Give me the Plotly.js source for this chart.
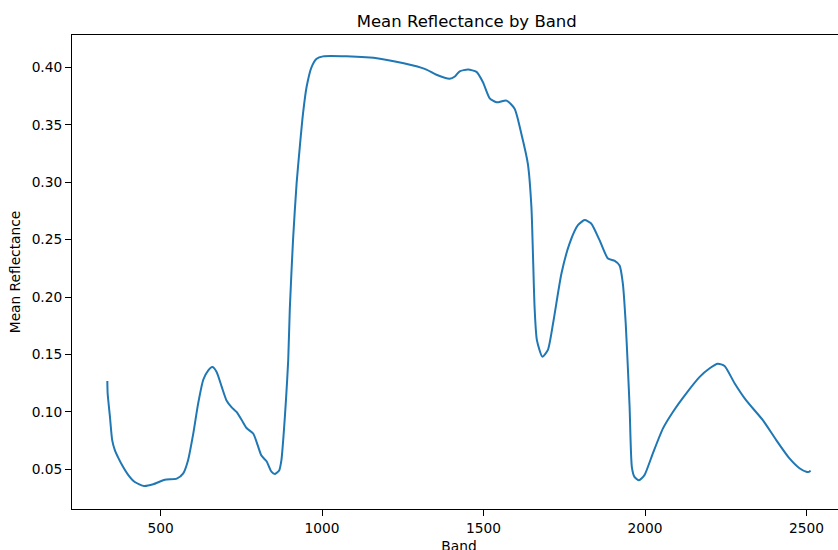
<!DOCTYPE html>
<html>
<head>
<meta charset="utf-8">
<script src="https://cdn.plot.ly/plotly-3.0.1.min.js"></script>
<style>
html,body{margin:0;padding:0;overflow:hidden;background:#fff;}
#chart{width:900px;height:560px;}
</style>
</head>
<body>
<div id="chart"></div>
<script>
const band = [335,336,343,350,358,369,384,400,420,449,477,513,550,570,585,601,616,632,647,660,673,689,704,720,735,751,766,787,797,812,828,843,854,867,874,881,888,895,900,910,921,931,941,952,967,983,1003,1075,1179,1282,1323,1354,1395,1411,1426,1452,1478,1498,1519,1540,1571,1596,1617,1637,1648,1653,1658,1665,1682,1699,1715,1741,1766,1792,1813,1833,1859,1885,1906,1921,1931,1940,1947,1952,1959,1967,1981,1998,2024,2055,2086,2127,2169,2200,2225,2246,2277,2313,2364,2406,2447,2478,2499,2509,2512];
const meanReflectance = [0.127,0.116,0.096,0.0755,0.067,0.060,0.052,0.045,0.039,0.0355,0.037,0.041,0.042,0.0465,0.058,0.081,0.107,0.128,0.136,0.139,0.135,0.122,0.110,0.104,0.100,0.093,0.086,0.081,0.074,0.062,0.057,0.048,0.046,0.049,0.058,0.081,0.110,0.145,0.19,0.25,0.299,0.331,0.360,0.383,0.400,0.4075,0.4095,0.4095,0.4075,0.4015,0.398,0.3935,0.390,0.392,0.3965,0.398,0.396,0.387,0.373,0.3695,0.371,0.364,0.342,0.316,0.2785,0.235,0.19,0.1625,0.148,0.154,0.177,0.2205,0.2465,0.2625,0.267,0.264,0.2495,0.2335,0.2315,0.2275,0.212,0.177,0.136,0.1045,0.052,0.0435,0.0405,0.045,0.064,0.0855,0.100,0.116,0.1305,0.138,0.142,0.140,0.125,0.110,0.093,0.0755,0.0595,0.051,0.048,0.048,0.049];
const xTicks = [500,1000,1500,2000,2500];
const yTicks = [0.05,0.10,0.15,0.20,0.25,0.30,0.35,0.40];
const yTickText = ["0.05","0.10","0.15","0.20","0.25","0.30","0.35","0.40"];

const font = "DejaVu Sans, sans-serif";
const trace = {
  x: band, y: meanReflectance, type: 'scatter', mode: 'lines',
  line: {color: '#1f77b4', width: 2, shape: 'spline', smoothing: 0.6},
  hoverinfo: 'skip'
};
const layout = {
  width: 900, height: 560,
  margin: {l: 72, r: 54, t: 35, b: 51, pad: 0},
  paper_bgcolor: '#fff', plot_bgcolor: '#fff',
  showlegend: false,
  font: {family: font, size: 13.75, color: '#000'},
  title: {text: 'Mean Reflectance by Band', font: {family: font, size: 16.5, color: '#000'},
          x: 0.51, xref: 'paper', xanchor: 'center', y: 1 - 21/560, yref: 'container', yanchor: 'middle'},
  xaxis: {
    range: [225.6, 2622], tickmode: 'array', tickvals: xTicks, ticktext: xTicks.map(String),
    ticks: 'outside', ticklen: 6, tickwidth: 1, tickcolor: '#000',
    showline: true, mirror: true, linecolor: '#000', linewidth: 1,
    showgrid: false, zeroline: false,
    tickfont: {family: font, size: 13.75, color: '#000'},
    title: {text: 'Band', font: {family: font, size: 13.75, color: '#000'}, standoff: 6}
  },
  yaxis: {
    range: [0.0155, 0.4281], tickmode: 'array', tickvals: yTicks, ticktext: yTickText,
    ticks: 'outside', ticklen: 6, tickwidth: 1, tickcolor: '#000',
    showline: true, mirror: true, linecolor: '#000', linewidth: 1,
    showgrid: false, zeroline: false,
    tickfont: {family: font, size: 13.75, color: '#000'},
    title: {text: 'Mean Reflectance', font: {family: font, size: 13.75, color: '#000'}, standoff: 7}
  }
};
Plotly.newPlot('chart', [trace], layout, {displayModeBar: false, staticPlot: true});
</script>
</body>
</html>
